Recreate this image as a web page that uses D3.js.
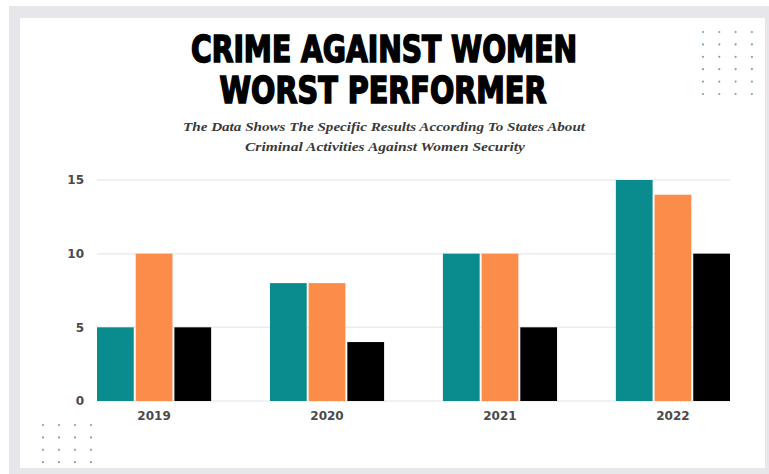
<!DOCTYPE html>
<html>
<head>
<meta charset="utf-8">
<script src="https://cdn.jsdelivr.net/npm/d3@7"></script>
<style>
  body { margin: 0; background: #fff; }
  svg { display: block; }
</style>
</head>
<body>
<svg width="769" height="474"></svg>
<script>
// chart values
var years = ["2019", "2020", "2021", "2022"];
var seriesNames = ["a", "b", "c"];
var seriesA = [5, 8, 10, 15];
var seriesB = [10, 8, 10, 14];
var seriesC = [5, 4, 5, 10];
var yTicks = [0, 5, 10, 15];
var colors = ["#0a8c8f", "#fc8c4a", "#000000"];

var svg = d3.select("svg");

// gray frame + white card
svg.append("rect").attr("x", 9).attr("y", 6).attr("width", 760).attr("height", 468).attr("fill", "#e6e6eb");
svg.append("rect").attr("x", 20).attr("y", 18).attr("width", 745).attr("height", 450).attr("fill", "#ffffff");

// decorative dots
function dotGrid(x0, y0, cols, rows, dx, dy) {
  var pts = [];
  for (var r = 0; r < rows; r++)
    for (var c = 0; c < cols; c++) pts.push([x0 + c * dx, y0 + r * dy]);
  svg.append("g").selectAll("circle").data(pts).enter().append("circle")
    .attr("cx", function(d) { return d[0]; })
    .attr("cy", function(d) { return d[1]; })
    .attr("r", 1.1)
    .attr("fill", "#7fa6a8");
}
dotGrid(703, 32, 4, 6, 16.3, 12.4);
dotGrid(43, 425, 4, 4, 16, 12.4);

// title
var title = svg.append("g").attr("font-family", "'DejaVu Sans Condensed', 'DejaVu Sans', sans-serif")
  .attr("font-weight", "bold").attr("fill", "#000").attr("stroke", "#000").attr("stroke-width", 1.6)
  .attr("text-anchor", "middle");
title.append("text").attr("x", 384).attr("y", 62).attr("font-size", 37)
  .attr("textLength", 386).attr("lengthAdjust", "spacingAndGlyphs").text("CRIME AGAINST WOMEN");
title.append("text").attr("x", 383).attr("y", 103).attr("font-size", 37)
  .attr("textLength", 327).attr("lengthAdjust", "spacingAndGlyphs").text("WORST PERFORMER");

var sub = svg.append("g").attr("font-family", "'Liberation Serif', serif")
  .attr("font-style", "italic").attr("font-weight", "bold").attr("font-size", 13)
  .attr("fill", "#3a3a3a").attr("text-anchor", "middle");
sub.append("text").attr("x", 384).attr("y", 131)
  .attr("textLength", 402).attr("lengthAdjust", "spacingAndGlyphs")
  .text("The Data Shows The Specific Results According To States About");
sub.append("text").attr("x", 385).attr("y", 151)
  .attr("textLength", 280).attr("lengthAdjust", "spacingAndGlyphs")
  .text("Criminal Activities Against Women Security");

// scales
var x = d3.scaleBand().domain(years).range([97, 730]).paddingInner(0.34).paddingOuter(0);
var x1 = d3.scaleBand().domain(seriesNames).range([0, x.bandwidth()]).paddingInner(0.05);
var y = d3.scaleLinear().domain([0, 15]).range([401, 180]);

// grid
svg.append("g").selectAll("line").data(yTicks).enter().append("line")
  .attr("x1", 97).attr("x2", 730)
  .attr("y1", function(d) { return y(d); }).attr("y2", function(d) { return y(d); })
  .attr("stroke", "#ececef").attr("stroke-width", 1.5);

// y axis labels
var yAxis = svg.append("g").attr("transform", "translate(84,0)")
  .call(d3.axisLeft(y).tickValues(yTicks).tickSize(0).tickPadding(0));
yAxis.select(".domain").remove();
yAxis.selectAll("text").attr("font-family", "'DejaVu Sans', sans-serif")
  .attr("font-size", 12).attr("font-weight", "bold").attr("fill", "#4a4a4a");

// bars
var data = years.map(function(yr, i) { return { year: yr, vals: [seriesA[i], seriesB[i], seriesC[i]] }; });
var groups = svg.append("g").selectAll("g").data(data).enter().append("g")
  .attr("transform", function(d) { return "translate(" + x(d.year) + ",0)"; });
groups.selectAll("rect").data(function(d) { return d.vals.map(function(v, j) { return { k: seriesNames[j], v: v, j: j }; }); })
  .enter().append("rect")
  .attr("x", function(d) { return x1(d.k); })
  .attr("y", function(d) { return y(d.v); })
  .attr("width", x1.bandwidth())
  .attr("height", function(d) { return y(0) - y(d.v); })
  .attr("fill", function(d) { return colors[d.j]; });

// x axis labels
var xAxis = svg.append("g").attr("transform", "translate(0,409)")
  .call(d3.axisBottom(x).tickSize(0).tickPadding(0));
xAxis.select(".domain").remove();
xAxis.selectAll("text").attr("dy", "0.95em").attr("font-family", "'DejaVu Sans', sans-serif")
  .attr("font-size", 12).attr("font-weight", "bold").attr("fill", "#4a4a4a");
</script>
</body>
</html>
